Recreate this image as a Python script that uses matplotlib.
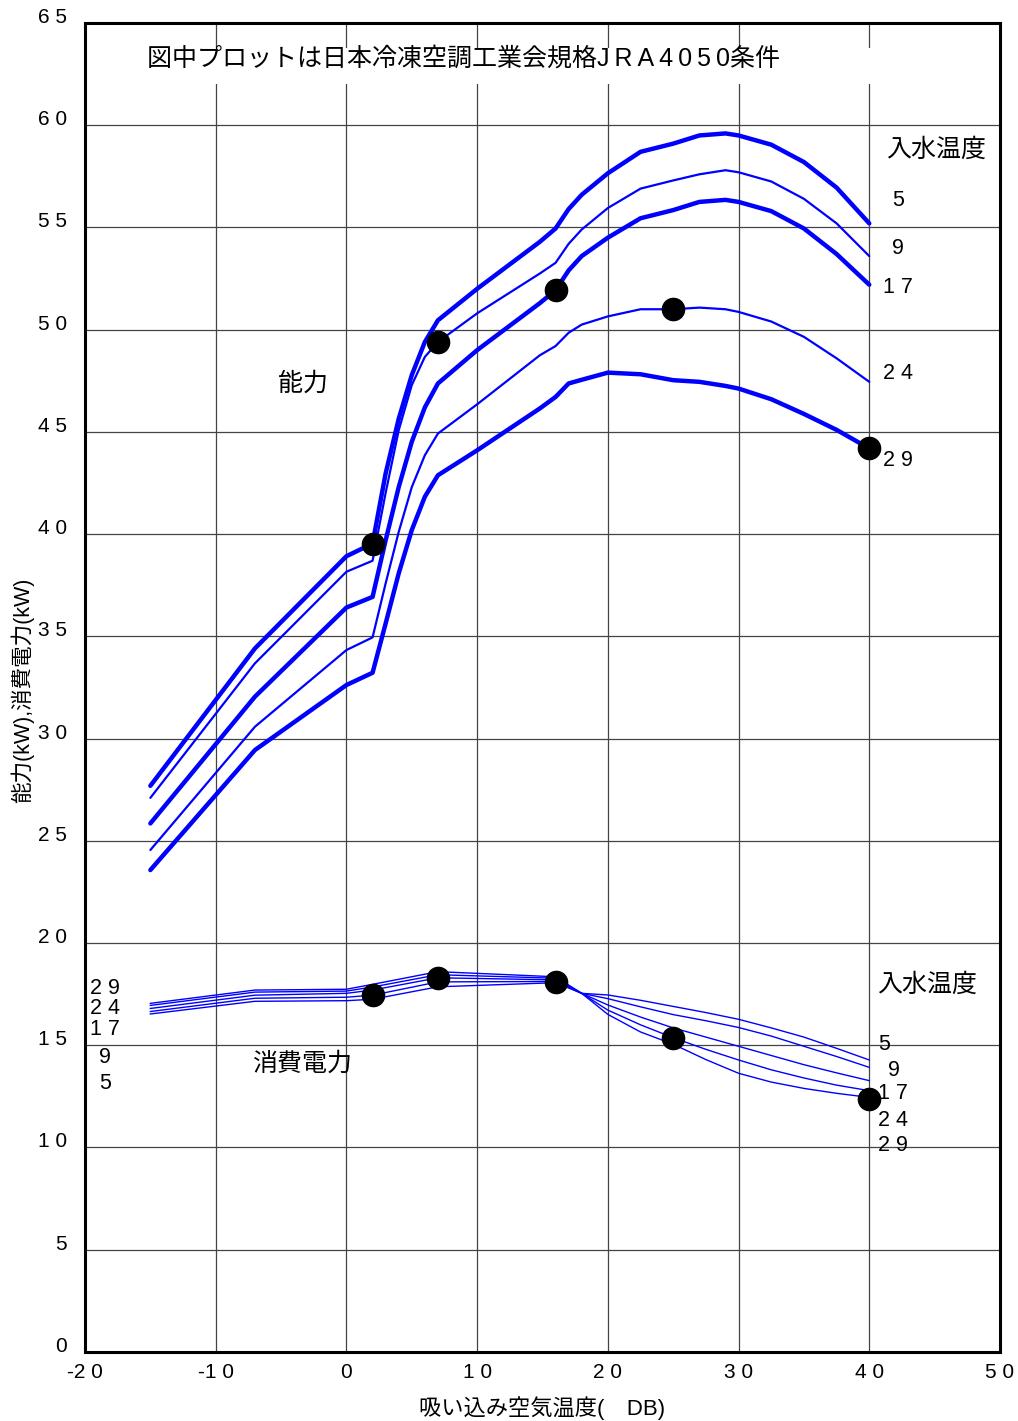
import numpy as np
import matplotlib
matplotlib.use("Agg")
import matplotlib.pyplot as plt
from matplotlib.patches import Rectangle

plt.rcParams['font.family'] = ['Liberation Sans', 'Noto Sans CJK JP', 'DejaVu Sans']

# capacity curves (inlet water temp 5/9/17/24/29)
cap_x = [-15, -7, 0, 2, 3, 4, 5, 6, 7, 10, 14.8, 16, 17, 18, 20, 22.5, 25, 27, 29, 30, 32.5, 35, 37.5, 40]
cap_5 = [27.69, 34.41, 38.92, 39.54, 42.97, 45.64, 47.78, 49.4, 50.46, 52.0, 54.3, 54.95, 55.9, 56.6, 57.65,
         58.7, 59.1, 59.5, 59.6, 59.5, 59.05, 58.2, 56.95, 55.2]
cap_9 = [27.1, 33.68, 38.16, 38.7, 42.02, 45.08, 47.29, 48.67, 49.4, 50.8, 52.75, 53.27, 54.2, 54.9, 55.95,
         56.9, 57.3, 57.6, 57.8, 57.7, 57.25, 56.4, 55.2, 53.6]
cap_17 = [25.85, 32.05, 36.41, 36.93, 39.7, 42.3, 44.52, 46.2, 47.37, 49.0, 51.3, 51.93, 52.9, 53.6, 54.5,
          55.45, 55.85, 56.25, 56.35, 56.25, 55.8, 54.95, 53.7, 52.2]
cap_24 = [24.55, 30.58, 34.33, 34.95, 37.59, 40.11, 42.3, 43.86, 44.92, 46.35, 48.75, 49.2, 49.85, 50.25, 50.65,
          51.0, 51.0, 51.08, 51.0, 50.87, 50.4, 49.65, 48.6, 47.45]
cap_29 = [23.57, 29.44, 32.62, 33.22, 35.63, 38.08, 40.2, 41.83, 42.88, 44.1, 46.15, 46.71, 47.37, 47.55, 47.9,
          47.82, 47.53, 47.45, 47.25, 47.12, 46.6, 45.88, 45.1, 44.19]

# power consumption curves
pow_x = [-15, -7, 0, 2, 7, 16, 18, 20, 22.5, 25, 27.5, 30, 32.5, 35, 37.5, 40]
pow_5 = [16.53, 17.15, 17.18, 17.25, 17.86, 18.06, 17.54, 17.46, 17.2, 16.9, 16.6, 16.27, 15.85, 15.4, 14.85, 14.28]
pow_9 = [16.65, 17.3, 17.35, 17.45, 18.1, 18.12, 17.54, 17.28, 16.88, 16.5, 16.2, 15.87, 15.45, 14.95, 14.45, 13.92]
pow_17 = [16.8, 17.45, 17.54, 17.7, 18.3, 18.2, 17.54, 16.97, 16.38, 15.85, 15.4, 14.95, 14.5, 14.05, 13.65, 13.27]
pow_24 = [16.95, 17.6, 17.65, 17.85, 18.45, 18.28, 17.54, 16.72, 16.0, 15.37, 14.8, 14.28, 13.8, 13.4, 13.05, 12.78]
pow_29 = [17.05, 17.7, 17.74, 17.98, 18.6, 18.35, 17.54, 16.51, 15.65, 15.05, 14.3, 13.63, 13.2, 12.89, 12.65, 12.45]

# JRA4050 plot points
cap_pts_x = [2, 7, 16, 25, 40]
cap_pts_y = [39.54, 49.4, 51.93, 51.0, 44.19]
pow_pts_x = [2, 7, 16, 25, 40]
pow_pts_y = [17.46, 18.27, 18.11, 15.37, 12.36]

water_temps = ['5', '9', '17', '24', '29']

fig = plt.figure(figsize=(10.18, 14.21), dpi=100)
ax = fig.add_axes([0.0835, 0.0486, 0.8988, 0.9352])
ax.set_xlim(-20, 50)
ax.set_ylim(0, 65)
ax.set_axisbelow(True)

ax.set_xticks(np.arange(-20, 51, 10))
ax.set_xticklabels(['-2 0', '-1 0', '0', '1 0', '2 0', '3 0', '4 0', '5 0'], fontsize=15)
ax.set_yticks(np.arange(0, 66, 5))
ax.set_yticklabels(['0', '5', '1 0', '1 5', '2 0', '2 5', '3 0', '3 5', '4 0', '4 5', '5 0', '5 5', '6 0', '6 5'],
                   fontsize=15)
for lab in ax.get_yticklabels():
    lab.set_va('baseline')
ax.tick_params(axis='y', length=0, pad=13)
ax.tick_params(axis='x', length=0, pad=8)
ax.grid(True, color='#444444', linewidth=0.9)
for s in ax.spines.values():
    s.set_linewidth(2.2)
    s.set_color('black')

# white band behind the note at the top
ax.add_patch(Rectangle((-19.8, 62.0), 69.6, 1.8, facecolor='white', edgecolor='none', zorder=1))

thick = [3.2, 1.6, 3.2, 1.6, 3.2]
for ys, lw in zip([cap_5, cap_9, cap_17, cap_24, cap_29], thick):
    ax.plot(cap_x, ys, color='#0000ff', linewidth=lw, solid_capstyle='round', zorder=2)
for ys in [pow_5, pow_9, pow_17, pow_24, pow_29]:
    ax.plot(pow_x, ys, color='#0000ff', linewidth=1.0, zorder=2)

ax.plot(cap_pts_x, cap_pts_y, 'o', color='black', markersize=16, zorder=4)
ax.plot(pow_pts_x, pow_pts_y, 'o', color='black', markersize=16, zorder=4)

ax.text(-15.26, 63.25, '図中プロットは日本冷凍空調工業会規格J\u2009R\u2009A\u20094\u20090\u20095\u20090条件',
        fontsize=18, va='center', zorder=5)
ax.text(41.28, 58.78, '入水温度', fontsize=18, va='center')
for t, y in zip(water_temps, [56.33, 53.99, 52.08, 47.87, 43.62]):
    ax.text(42.2, y, ' '.join(t), fontsize=15.5, ha='center', va='center')
ax.text(40.6, 17.95, '入水温度', fontsize=18, va='center')
for t, x, y in zip(water_temps, [40.67, 41.4, 40.67, 40.67, 40.67], [15.06, 13.79, 12.62, 11.34, 10.12]):
    ax.text(x, y, ' '.join(t), fontsize=15.5, ha='left', va='center')
for t, y in zip(water_temps, [13.15, 14.38, 15.75, 16.82, 17.8]):
    ax.text(-18.47, y, ' '.join(t), fontsize=15.5, ha='center', va='center')
ax.text(-3.32, 47.38, '能力', fontsize=18, ha='center', va='center')
ax.text(-3.4, 14.08, '消費電力', fontsize=18, ha='center', va='center')

ax.set_xlabel('吸い込み空気温度(\u3000DB)', fontsize=16, labelpad=10)
fig.text(0.0216, 1 - 690 / 1421, '能力(kW),消費電力(kW)', fontsize=15.5, rotation=90, ha='center', va='center')

fig.savefig('out.png', dpi=100)
